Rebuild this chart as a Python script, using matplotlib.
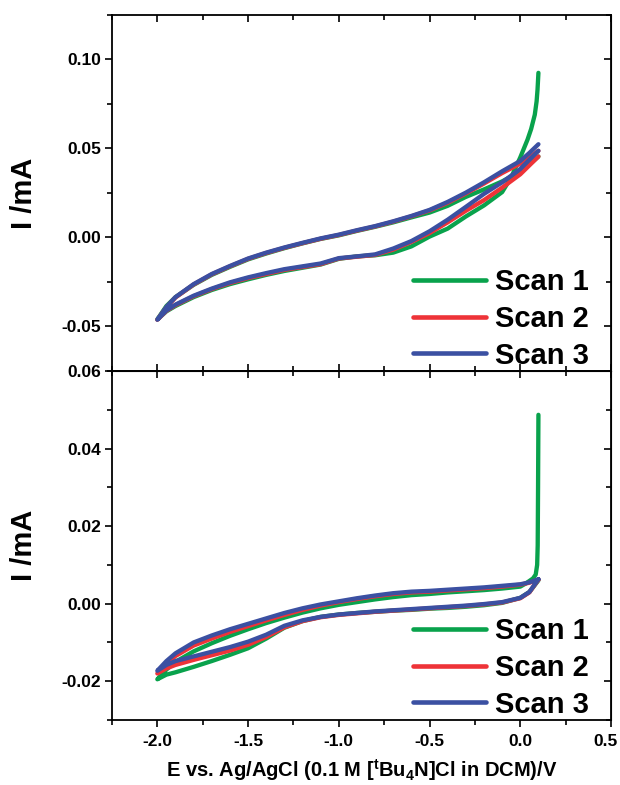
import numpy as np
import matplotlib
matplotlib.use('Agg')
import matplotlib.pyplot as plt
from matplotlib.ticker import MultipleLocator, FormatStrFormatter, FuncFormatter

plt.rcParams['font.family'] = 'Liberation Sans'
plt.rcParams['font.weight'] = 'bold'
plt.rcParams['axes.unicode_minus'] = False
plt.rcParams['mathtext.fontset'] = 'custom'
plt.rcParams['mathtext.rm'] = 'Liberation Sans:bold'
plt.rcParams['mathtext.it'] = 'Liberation Sans:bold'
plt.rcParams['mathtext.bf'] = 'Liberation Sans:bold'

# potential grid (V), ascending
E_grid = [-2.00, -1.95, -1.90, -1.80, -1.70, -1.60, -1.50, -1.40, -1.30, -1.20, -1.10, -1.00,
          -0.90, -0.80, -0.70, -0.60, -0.50, -0.40, -0.30, -0.20, -0.10, 0.00, 0.05, 0.10]

# ---- top panel (mA) ----
# scan 1 cathodic branch has its own grid (spike at the start potential)
E_top_s1_lower = E_grid[:20] + [-0.10, -0.05, 0.00, 0.02, 0.04, 0.06, 0.08, 0.09, 0.095, 0.10]
I_top_s1_lower = [-0.0460, -0.0415, -0.0385, -0.0335, -0.0295, -0.0262, -0.0235, -0.0210, -0.0188, -0.0170,
                  -0.0152, -0.0120, -0.0106, -0.0100, -0.0085, -0.0050, 0.0005, 0.0050, 0.0118, 0.0180,
                  0.0255, 0.0338, 0.0450, 0.0500, 0.0550, 0.0610, 0.0690, 0.0765, 0.0830, 0.0925]
I_top_s1_upper = [-0.0460, -0.0385, -0.0335, -0.0266, -0.0210, -0.0165, -0.0123, -0.0090, -0.0060, -0.0033,
                  -0.0008, 0.0012, 0.0037, 0.0060, 0.0085, 0.0113, 0.0140, 0.0178, 0.0228, 0.0270,
                  0.0315, 0.0370, 0.0410, 0.0455]
I_top_s2_lower = [-0.0462, -0.0412, -0.0380, -0.0330, -0.0290, -0.0256, -0.0228, -0.0205, -0.0182, -0.0166,
                  -0.0150, -0.0118, -0.0108, -0.0098, -0.0068, -0.0025, 0.0025, 0.0085, 0.0150, 0.0210,
                  0.0280, 0.0355, 0.0405, 0.0455]
I_top_s2_upper = [-0.0462, -0.0392, -0.0337, -0.0264, -0.0207, -0.0162, -0.0120, -0.0087, -0.0058, -0.0032,
                  -0.0007, 0.0014, 0.0039, 0.0062, 0.0089, 0.0119, 0.0152, 0.0195, 0.0247, 0.0303,
                  0.0362, 0.0415, 0.0450, 0.0487]
I_top_s3_lower = [-0.0462, -0.0410, -0.0377, -0.0327, -0.0287, -0.0252, -0.0224, -0.0200, -0.0178, -0.0162,
                  -0.0146, -0.0116, -0.0106, -0.0095, -0.0062, -0.0020, 0.0035, 0.0100, 0.0172, 0.0245,
                  0.0310, 0.0385, 0.0437, 0.0487]
I_top_s3_upper = [-0.0462, -0.0390, -0.0335, -0.0262, -0.0205, -0.0160, -0.0118, -0.0085, -0.0056, -0.0030,
                  -0.0005, 0.0016, 0.0041, 0.0064, 0.0091, 0.0121, 0.0155, 0.0200, 0.0252, 0.0310,
                  0.0372, 0.0430, 0.0475, 0.0524]

# ---- bottom panel (mA) ----
E_bot_s1_upper = E_grid[:22] + [0.03, 0.07, 0.085, 0.093, 0.096, 0.098, 0.10]
I_bot_s1_upper = [-0.0195, -0.0170, -0.0150, -0.0123, -0.0102, -0.0083, -0.0066, -0.0050, -0.0036, -0.0023,
                  -0.0012, -0.0003, 0.0004, 0.0011, 0.0017, 0.0022, 0.0025, 0.0029, 0.0032, 0.0035,
                  0.0039, 0.0044, 0.0052, 0.0065, 0.0075, 0.0100, 0.0150, 0.0300, 0.0487]
I_bot_s1_lower = [-0.0195, -0.0183, -0.0177, -0.0163, -0.0148, -0.0132, -0.0115, -0.0090, -0.0062, -0.0045,
                  -0.0034, -0.0028, -0.0024, -0.0021, -0.0018, -0.0016, -0.0013, -0.0011, -0.0008, -0.0004,
                  0.0002, 0.0015, 0.0030, 0.0060]
I_bot_s2_upper = [-0.0180, -0.0155, -0.0135, -0.0108, -0.0090, -0.0073, -0.0058, -0.0043, -0.0029, -0.0016,
                  -0.0005, 0.0004, 0.0012, 0.0019, 0.0025, 0.0029, 0.0031, 0.0034, 0.0037, 0.0040,
                  0.0044, 0.0049, 0.0054, 0.0062]
I_bot_s2_lower = [-0.0180, -0.0167, -0.0158, -0.0145, -0.0133, -0.0121, -0.0106, -0.0086, -0.0061, -0.0045,
                  -0.0035, -0.0029, -0.0025, -0.0021, -0.0018, -0.0015, -0.0012, -0.0009, -0.0006, -0.0002,
                  0.0003, 0.0014, 0.0029, 0.0062]
I_bot_s3_upper = [-0.0173, -0.0148, -0.0128, -0.0100, -0.0082, -0.0066, -0.0052, -0.0038, -0.0024, -0.0012,
                  -0.0002, 0.0006, 0.0014, 0.0021, 0.0027, 0.0031, 0.0033, 0.0036, 0.0039, 0.0042,
                  0.0046, 0.0050, 0.0055, 0.0063]
I_bot_s3_lower = [-0.0173, -0.0158, -0.0148, -0.0136, -0.0124, -0.0112, -0.0098, -0.0080, -0.0057, -0.0043,
                  -0.0034, -0.0028, -0.0024, -0.0020, -0.0017, -0.0014, -0.0011, -0.0008, -0.0005, -0.0001,
                  0.0004, 0.0015, 0.0030, 0.0063]

labels = ['Scan 1', 'Scan 2', 'Scan 3']
colors = ['#09A24C', '#EE3338', '#3B50A2']


def cv_loop(E_neg, I_neg, E_pos, I_pos):
    # negative sweep from the start potential, then back
    E = np.concatenate([np.array(E_neg)[::-1], np.array(E_pos)[1:]])
    I = np.concatenate([np.array(I_neg)[::-1], np.array(I_pos)[1:]])
    return E, I


top_loops = [cv_loop(E_top_s1_lower, I_top_s1_lower, E_grid, I_top_s1_upper),
             cv_loop(E_grid, I_top_s2_lower, E_grid, I_top_s2_upper),
             cv_loop(E_grid, I_top_s3_lower, E_grid, I_top_s3_upper)]
bot_loops = [cv_loop(E_bot_s1_upper, I_bot_s1_upper, E_grid, I_bot_s1_lower),
             cv_loop(E_grid, I_bot_s2_upper, E_grid, I_bot_s2_lower),
             cv_loop(E_grid, I_bot_s3_upper, E_grid, I_bot_s3_lower)]

fig = plt.figure(figsize=(6.2, 7.85), dpi=100)
ax1 = fig.add_axes([0.1806, 0.5274, 0.8049, 0.4535])
ax2 = fig.add_axes([0.1806, 0.0828, 0.8049, 0.4446])

for ax, loops in [(ax1, top_loops), (ax2, bot_loops)]:
    for (E, I), lab, c in zip(loops, labels, colors):
        ax.plot(E, I, color=c, lw=3.1, label=lab, solid_joinstyle='round', solid_capstyle='round')
    ax.set_xlim(-2.25, 0.5)
    ax.xaxis.set_major_locator(MultipleLocator(0.5))
    ax.xaxis.set_minor_locator(MultipleLocator(0.25))
    for s in ax.spines.values():
        s.set_linewidth(1.3)
    ax.tick_params(axis='y', which='both', direction='out', left=True, right=False,
                   labelsize=12.5, width=1.2, pad=3)
    ax.tick_params(which='major', length=5)
    ax.tick_params(which='minor', length=3.5)
    ax.set_ylabel('I /mA', fontsize=21, fontweight='bold')
    ax.yaxis.set_label_coords(-0.148, 0.5)
    leg = ax.legend(loc='lower right', bbox_to_anchor=(0.955, 0.004), frameon=False, fontsize=21,
                    handlelength=2.5, handletextpad=0.3, labelspacing=0.3, borderpad=0, borderaxespad=0)
    for h in leg.legend_handles:
        h.set_linewidth(3.3)

# top panel
ax1.set_ylim(-0.075, 0.125)
ax1.yaxis.set_major_locator(MultipleLocator(0.05))
ax1.yaxis.set_minor_locator(MultipleLocator(0.025))
ax1.yaxis.set_major_formatter(FormatStrFormatter('%.2f'))
ax1.set_yticks([-0.05, 0.0, 0.05, 0.10])
ax1.tick_params(axis='x', which='both', direction='in', top=True, bottom=True,
                labelbottom=False, width=1.2)

# bottom panel
ax2.set_ylim(-0.03, 0.06)
ax2.yaxis.set_major_locator(MultipleLocator(0.02))
ax2.yaxis.set_minor_locator(MultipleLocator(0.01))
ax2.yaxis.set_major_formatter(FormatStrFormatter('%.2f'))
# the label at the right edge is placed separately so it stays inside the picture
x_right = 0.5
ax2.xaxis.set_major_formatter(FuncFormatter(lambda v, p: '' if abs(v - x_right) < 1e-9 else '%.1f' % v))
ax2.annotate('%.1f' % x_right, xy=(x_right, 0), xycoords=('data', 'axes fraction'),
             xytext=(-4, -10), textcoords='offset points', ha='center', va='top',
             fontsize=12.5, fontweight='bold', annotation_clip=False)
ax2.tick_params(axis='x', which='both', direction='out', top=False, bottom=True,
                labelsize=12.5, width=1.2, pad=5)
ax2.set_xlabel(r'E vs. Ag/AgCl (0.1 M [$^{\mathbf{t}}$Bu$_{\mathbf{4}}$N]Cl in DCM)/V',
               fontsize=14.5, fontweight='bold', labelpad=6)
secx = ax2.secondary_xaxis('top')
secx.xaxis.set_major_locator(MultipleLocator(0.5))
secx.xaxis.set_minor_locator(MultipleLocator(0.25))
secx.tick_params(which='both', direction='in', labeltop=False, width=1.2)
secx.tick_params(which='major', length=5)
secx.tick_params(which='minor', length=3.5)

# inward ticks on the right side of both panels
for ax, maj, mnr in [(ax1, 0.05, 0.025), (ax2, 0.02, 0.01)]:
    secy = ax.secondary_yaxis('right')
    secy.yaxis.set_major_locator(MultipleLocator(maj))
    secy.yaxis.set_minor_locator(MultipleLocator(mnr))
    secy.tick_params(which='both', direction='in', labelright=False, width=1.2)
    secy.tick_params(which='major', length=5)
    secy.tick_params(which='minor', length=3.5)

fig.savefig('out.png', dpi=100)
